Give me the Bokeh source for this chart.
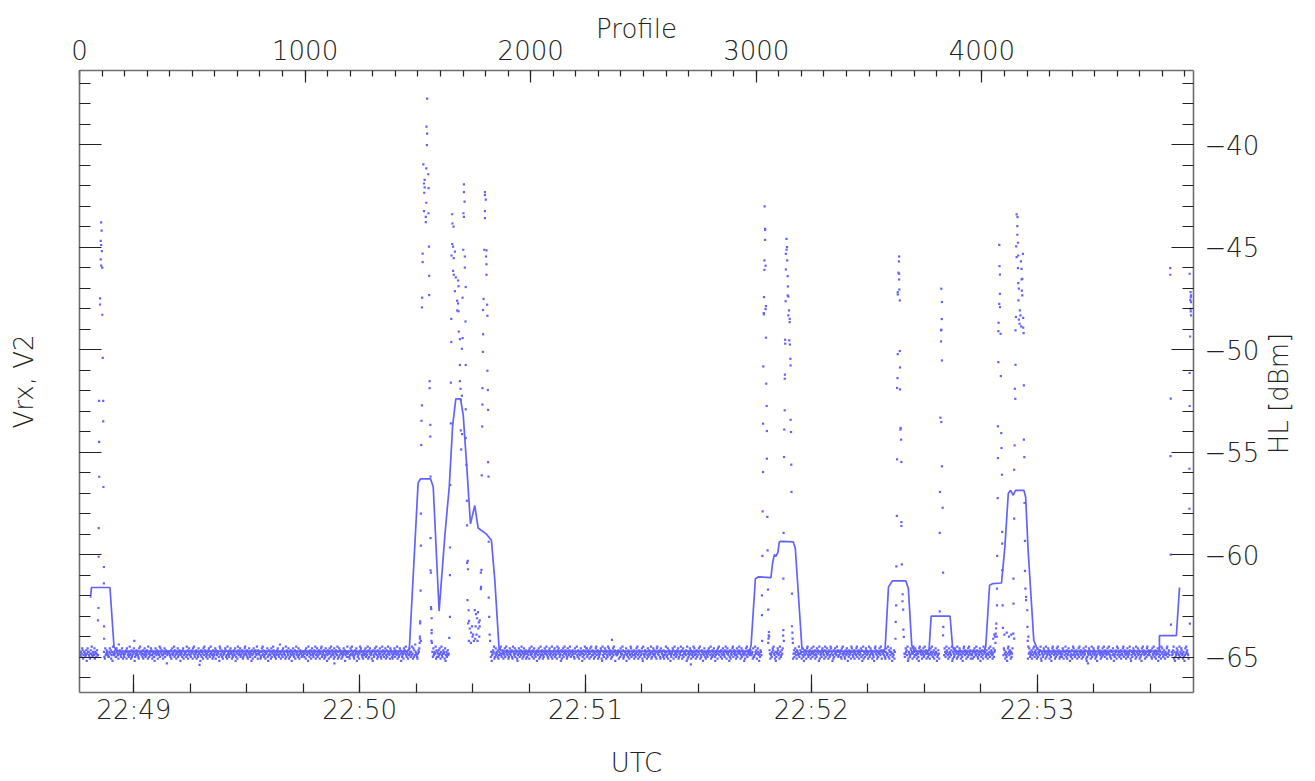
import math
import numpy as np
from bokeh.plotting import figure
from bokeh.layouts import row
from bokeh.models import LinearAxis, Range1d, FixedTicker
from bokeh.core.properties import value
from bokeh.embed import file_html
from bokeh.resources import INLINE

# ---------------- axes / ticks ----------------
profile_ticks = [0, 1000, 2000, 3000, 4000]
profile_minor = list(range(0, 4901, 100))
utc_tick_seconds = [60, 120, 180, 240, 300]          # seconds after 22:48:00
utc_tick_labels = ["22:49", "22:50", "22:51", "22:52", "22:53"]
utc_minor = list(range(60, 341, 15))
db_ticks = [-65, -60, -55, -50, -45, -40]
db_tick_labels = ["\u221265", "\u221260", "\u221255", "\u221250", "\u221245", "\u221240"]
db_minor = list(range(-66, -36))
top_title = "Profile"
right_title = "HL [dBm]"
left_title = "Vrx, V2"
bottom_title = "UTC"

# ---------------- HL (solid line), profile vs dBm ----------------
line_profile = [49, 53, 135, 153, 170, 1455, 1462, 1501, 1512, 1556, 1568, 1594, 1620,
                1639, 1654, 1668, 1689, 1701, 1716, 1733, 1752, 1767, 1804, 1826, 1841,
                1860, 1875, 2970, 2977, 2996, 3010, 3065, 3072, 3080, 3087, 3096, 3102,
                3109, 3164, 3173, 3202, 3215, 3565, 3571, 3586, 3603, 3663, 3674, 3689,
                3700, 3760, 3766, 3775, 3859, 3870, 3880, 4010, 4017, 4034, 4049, 4087,
                4102, 4117, 4127, 4139, 4149, 4186, 4194, 4205, 4230, 4245, 4260, 4787,
                4787, 4862, 4876]
line_db = [-62.1, -61.6, -61.6, -64.5, -64.7, -64.7, -64.6, -56.5, -56.3, -56.3, -56.7,
           -62.75, -59.0, -56.7, -53.7, -52.4, -52.4, -53.2, -55.6, -58.5, -57.6, -58.7,
           -59.0, -59.3, -61.25, -64.6, -64.7, -64.7, -64.4, -61.17, -61.08, -61.12,
           -60.43, -60.0, -60.08, -59.87, -59.38, -59.35, -59.38, -59.7, -64.5, -64.7,
           -64.7, -64.58, -61.57, -61.28, -61.28, -61.65, -64.41, -64.7, -64.7, -64.6,
           -63.0, -63.0, -64.5, -64.7, -64.7, -64.5, -61.49, -61.41, -61.38, -59.62,
           -57.02, -56.86, -57.1, -56.86, -56.86, -57.19, -59.79, -64.17, -64.58, -64.7,
           -64.7, -63.95, -63.95, -61.6]

# ---------------- Vrx dots during events (profile, dBm) ----------------
spike_pts = [
    # event 1
    (96, -43.8), (98, -44.2), (94, -44.7), (96, -44.9), (99, -45.2), (94, -45.6), (96, -45.9),
    (101, -46.0), (91, -47.5), (91, -47.8), (101, -48.3), (103, -50.4), (87, -52.5), (105, -52.5),
    (105, -53.5), (87, -54.5), (87, -56.2), (106, -56.7), (85, -58.7), (85, -60.1), (108, -60.6),
    (108, -61.4), (84, -62.6), (82, -63.2), (109, -63.5), (109, -64.1),
    # event 2, cluster A
    (1541, -37.76), (1538, -39.13), (1541, -39.47), (1540, -40.03), (1524, -40.97), (1537, -41.16),
    (1546, -41.45), (1530, -41.72), (1527, -41.9), (1530, -42.09), (1547, -42.13), (1528, -42.35),
    (1537, -42.84), (1527, -43.25), (1547, -43.35), (1535, -43.53), (1535, -43.78), (1549, -44.98),
    (1521, -45.32), (1521, -45.73), (1550, -46.4), (1550, -47.34), (1519, -47.47), (1518, -47.94),
    (1552, -51.54), (1552, -51.88), (1518, -52.72), (1516, -53.47), (1555, -53.67), (1555, -54.24),
    (1515, -54.65), (1556, -56.19), (1513, -58.0), (1556, -59.19), (1513, -59.56), (1558, -60.87),
    (1512, -61.75), (1559, -62.65), (1510, -63.35), (1561, -63.82), (1509, -64.1), (1556, -60.76),
    (1558, -62.55), (1510, -63.25), (1561, -63.1), (1561, -63.68), (1509, -64.0), (1560, -64.2),
    (1562, -64.3), (1508, -64.3), (1513, -64.2),
    # event 2, cluster B
    (1704, -41.94), (1704, -42.32), (1707, -42.78), (1702, -43.35), (1652, -43.40), (1704, -43.53),
    (1653, -43.85), (1658, -44.0), (1652, -44.85), (1656, -44.98), (1701, -45.13), (1664, -45.22),
    (1649, -45.41), (1708, -45.46), (1659, -45.54), (1708, -46.0), (1656, -46.16), (1659, -46.35),
    (1668, -46.48), (1678, -46.63), (1680, -46.91), (1712, -46.95), (1664, -47.15), (1698, -47.47),
    (1674, -47.62), (1678, -47.75), (1674, -48.09), (1680, -48.13), (1648, -48.5), (1711, -48.63),
    (1681, -49.12), (1698, -49.44), (1686, -49.49), (1648, -49.63), (1695, -49.96), (1686, -50.75),
    (1712, -50.75), (1686, -51.54), (1646, -51.61), (1689, -51.91), (1695, -52.25), (1690, -52.44),
    (1712, -52.91), (1646, -53.6), (1690, -53.94), (1696, -54.12), (1712, -54.31), (1692, -54.87),
    (1715, -55.62), (1643, -56.6), (1717, -57.37), (1718, -58.57), (1642, -59.65), (1718, -60.4),
    (1642, -61.0), (1720, -62.22), (1642, -63.03), (1723, -63.35), (1639, -64.06),
    (1721, -60.3), (1722, -60.71), (1725, -62.71), (1727, -63.23), (1752, -62.7), (1758, -62.9),
    (1762, -63.1), (1766, -62.8), (1770, -63.3), (1756, -63.5), (1768, -63.6), (1774, -63.2),
    (1730, -63.6), (1736, -63.8), (1742, -64.0), (1748, -64.2), (1735, -64.3), (1745, -63.9),
    (1754, -64.1), (1760, -63.9), (1726, -64.2), (1740, -63.5), (1764, -64.2), (1772, -64.0),
    # event 2, cluster C
    (1797, -42.32), (1797, -42.47), (1801, -42.69), (1797, -43.25), (1797, -43.59), (1794, -45.13),
    (1804, -45.16), (1802, -45.46), (1804, -45.84), (1804, -46.35), (1791, -47.53), (1807, -47.81),
    (1789, -48.07), (1808, -48.35), (1789, -49.25), (1788, -50.11), (1808, -51.03), (1786, -51.88),
    (1810, -51.97), (1786, -52.68), (1811, -52.94), (1785, -53.75), (1811, -55.49), (1783, -56.13),
    (1813, -56.19), (1814, -59.37), (1779, -60.87), (1779, -61.68), (1814, -62.09), (1816, -63.03),
    (1774, -63.5), (1818, -63.9), (1820, -64.2), (1782, -60.74), (1780, -61.57),
    # event 3, cluster D
    (3037, -43.02), (3039, -44.11), (3039, -44.16), (3039, -44.65), (3036, -45.65), (3041, -45.91),
    (3036, -46.11), (3034, -47.44), (3043, -47.88), (3041, -48.02), (3033, -48.22), (3034, -48.28),
    (3043, -49.42), (3031, -50.82), (3044, -51.66), (3046, -52.75), (3030, -53.61), (3047, -53.97),
    (3047, -55.32), (3030, -55.97), (3028, -57.89), (3049, -58.16), (3050, -59.79), (3027, -60.06),
    (3052, -61.7), (3025, -61.98), (3053, -62.68), (3025, -62.95), (3056, -63.77), (3055, -63.93),
    (3054, -64.09), (3026, -64.2), (3053, -64.3), (3057, -64.0),
    # event 3, cluster E
    (3134, -44.6), (3136, -45.0), (3134, -45.13), (3131, -45.33), (3137, -45.65), (3131, -46.09),
    (3139, -46.42), (3140, -46.92), (3139, -47.36), (3142, -47.41), (3130, -47.64), (3145, -48.09),
    (3142, -48.33), (3148, -48.5), (3148, -48.66), (3128, -49.52), (3146, -49.55), (3128, -49.71),
    (3149, -49.75), (3151, -50.45), (3152, -50.77), (3127, -51.22), (3126, -51.42), (3126, -52.96),
    (3152, -53.42), (3124, -53.9), (3154, -54.02), (3123, -55.24), (3155, -55.61), (3156, -56.94),
    (3121, -58.94), (3120, -61.17), (3158, -61.9), (3158, -63.49), (3120, -63.68), (3161, -64.09),
    (3119, -63.95), (3122, -64.2), (3160, -63.8), (3162, -64.3),
    # event 4
    (3633, -45.46), (3632, -45.70), (3630, -46.25), (3633, -46.30), (3633, -46.58), (3634, -47.07),
    (3627, -47.2), (3627, -47.31), (3636, -47.6), (3636, -50.07), (3627, -50.22), (3637, -50.87),
    (3626, -51.39), (3624, -51.87), (3637, -51.94), (3640, -53.82), (3639, -53.9), (3642, -54.39),
    (3624, -55.35), (3643, -55.48), (3623, -58.11), (3643, -58.41), (3643, -58.6), (3645, -60.47),
    (3621, -60.57), (3649, -61.93), (3648, -62.27), (3620, -62.47), (3651, -62.68), (3618, -63.28),
    (3652, -63.65), (3654, -64.01), (3617, -64.1),
    # event 5
    (3820, -47.03), (3823, -47.68), (3822, -48.51), (3820, -49.03), (3819, -49.06), (3819, -49.6),
    (3823, -50.53), (3816, -53.32), (3820, -53.53), (3823, -55.69), (3814, -56.94), (3826, -57.71),
    (3813, -58.94), (3828, -60.87), (3813, -62.76), (3829, -63.52), (3828, -63.93),
    # event 6, cluster G
    (4077, -44.89), (4078, -45.93), (4080, -46.34), (4080, -47.28), (4077, -47.77), (4080, -47.93),
    (4074, -48.69), (4073, -49.1), (4083, -49.23), (4073, -50.61), (4084, -51.29), (4071, -53.74),
    (4086, -54.07), (4087, -54.8), (4071, -55.29), (4089, -56.1), (4070, -57.24), (4090, -58.89),
    (4090, -59.46), (4068, -60.06), (4090, -60.76), (4067, -61.65), (4092, -62.47), (4067, -62.47),
    (4064, -63.36), (4093, -63.57), (4061, -63.85), (4058, -64.0), (4050, -64.1), (4055, -63.9),
    (4060, -64.3), (4063, -63.6), (4066, -64.0),
    # event 6, cluster H
    (4154, -43.41), (4158, -43.54), (4157, -43.98), (4157, -44.4), (4160, -44.79), (4152, -44.97),
    (4182, -45.33), (4161, -45.41), (4154, -45.49), (4173, -45.7), (4160, -46.03), (4176, -46.06),
    (4179, -46.55), (4176, -46.58), (4161, -46.76), (4164, -47.03), (4177, -47.12), (4179, -47.36),
    (4162, -47.6), (4168, -48.09), (4171, -48.33), (4151, -48.41), (4183, -48.45), (4164, -48.54),
    (4167, -48.74), (4174, -48.87), (4183, -48.93), (4149, -49.06), (4185, -49.2), (4149, -50.74),
    (4186, -51.74), (4146, -51.91), (4148, -52.4), (4186, -54.39), (4145, -54.67), (4188, -55.24),
    (4143, -55.86), (4189, -57.48), (4143, -58.24), (4191, -59.33), (4191, -60.79), (4140, -61.17),
    (4193, -61.65), (4196, -62.06), (4196, -62.22), (4140, -62.39), (4201, -62.71), (4202, -63.52),
    (4139, -63.85), (4143, -64.09), (4100, -63.9), (4110, -63.8), (4120, -64.0), (4130, -63.9),
    (4203, -64.2), (4206, -64.0),
    # event 7 and right edge
    (4835, -46.03), (4835, -46.35), (4837, -52.39), (4836, -55.19), (4837, -60.0), (4838, -63.41),
    (4921, -46.3), (4925, -47.2), (4927, -47.36), (4926, -47.44), (4924, -47.57), (4927, -47.68),
    (4925, -48.01), (4926, -48.14), (4927, -48.33), (4923, -49.36), (4921, -51.14), (4921, -52.75),
    (4920, -55.81), (4920, -57.76), (4922, -63.36),
    # isolated outliers in the baseline
    (532, -65.37), (243, -64.2), (1130, -65.3), (2360, -64.15), (2710, -65.35), (4470, -65.3),
]
spike_profile = [a for a, b in spike_pts]
spike_db = [b for a, b in spike_pts]

# ---------------- Vrx baseline dots: one code letter per sample ----------------
NOISE_LEVELS = {"a": -65.45, "b": -65.3, "c": -65.18, "d": -65.07, "e": -64.98,
                "f": -64.9, "g": -64.82, "h": -64.74, "i": -64.66, "j": -64.57,
                "k": -64.48, "l": -64.38, "m": -64.28, "n": -64.18, "o": -64.05}
NOISE_ROWS = [
    "ghfhegjidfhhgeficgjhhfedgigkfehgfjdhgegiffhjdcgehigfgkhedjfgihgfeehjgidfhckgfhgieejhgfdlgihfegjhdg",
    "fegghidjhfgehkfgdiefhgjhcegfighfedjgkhhfgeidgfjhegfihdkgegfhjifdgheecgjhfigdhgfkejhgiffdghjegihbfgh",
    "hhgfeidgjfghkeifgdhgjefhigcfhgeijdfhgghekfidgjhffegihdjgkfehgidhfejgghcfiehgdjfkhigefgdhijfegkhgfdi",
    "egfhjdigfhhgeckjfgiehdfgghjiefdkghfeigjhgdfehigfjcehgdkifghjefgihdegfjkhgfiedhgjfehgcifdgjhheigfkgd",
    "iggfhdehjfkgiefhdgghjecfigfhdjeghkifgehdfgijhfeglgdhfiejgghfdkeihgfjdhegifchgjfegidhkfghejfdgihgefh",
    "fhgegidjhfgckhegifdhjgfegihkdfgjehfigdhgjkefhgidfejhgcfigdhjgekfihgfdjehgigfkdhejfighdgefhjgicfhgek",
    "ghhedfjgikfhgedfighjcgefhdgkijhfegdhfigjegfhkdiegjhfgdhcifegjhgkfdiehgfjgedhkfigeghjdfiegkhgfdjihge",
    "dfhgjeighfkdghefjigchefgdjhigkfehgdifjghehfkgdjeiflhgfedgihjgfekdhgijfgehcdfighgejkhfgdihejfghgkdie",
    "hgeifjgdhkfegihgdjcfhegifgkhdejhfgigedhfkjgfieghdjfhegkigfhdcjegfhigdkehjfgihegdfjkhgefighdjegfhkgi",
    "gfeihgjdkhfgeihfdgjehcfgihkdegjfhgeidfhjgkfegihdgfjehkgifhdegjgfhiedkhgfjegihdcfgjhegifkhdgejfhgidg",
    "eghfidjhgfkgeihdjfgehgcifhjdgekfhigdfehjgigkfhedgijfhgekdhfgijegfhdkigjhefgcidhfjegkhigfdejhgfikgeh",
    "hfiggedjghhkfeigdhffjghcegifdkhgjjefhigdgjekhfifgdhegjkfhidgefhgjidckfhegjgidhfekgjhfigdhegjfkhicgg",
    "ffhgidhhejgfgkidefhhgjcfgeihdgfkjeghfhidfgegjhkfdgiehhfgjdckgfeighhdfjegifhgkdehgjfifgehdjkggfhied",
    "jhggfeidfhgkhefjdgihgcfeghjidfkghegfihjdeggfkhidfjeghhgfickdgehfjgidhfgekhjfgdgiefhhjgkdfeihgcgfjhe",
    "dghfeigjhhfkdgeifhjgecfhgidjgkfhheigdfjhgfeikhdgjgfhceidgfhjkegihfgdfjehgikhgdfjeighfcgdhjfkegihgf",
    "higfghdjeefkhgidgjhfcgeihfkdgjhegfidhgjfekhigdfgehjikgfdhceghjifgdkhefigjhgdfeikhgjfcdgihefjghkdgi",
    "egjhfdihgfkegighdjfhecgfihdgjkfehgifdgjhegkhfidgfejhigckdhfgeijhgfdikehgjfgdhiefkjghcfdiegjhgfkhie",
    "fhhgiedjgkfhgedigfjhcgeifhgdkjhfegidhgfjkeghidfhgjeicfkdhgegjifhgdhkefjgihdgfechjkgifdheghjgfkidhg",
    "gifhedhjgfgkeidhfjhgcegfidhgkjeghfidgfhjekgihfdgegjhifkcdhgefjighdgkhefjigfdhgecjkhgifdhgjefkhgidg",
    "hegfidgjhfkgehidfgjhgcefigdhkjhegfidgfjhegkihfdgjehgfikcdhgefjihgdkegfhjigdfhecgjkhfigdhgejfkhgidf",
    "fgdhiejhgfkgiedhfgjchegifdkhgjhefigdgfjhekgihfdgjehigfkdchgefjhigdkhegfjigdhfecgjkhfigdhegjfkihgde",
    "ghiefdhjgfkheigdfhgjcegfihdkgjhefgidhfjgkehigfdjehghfikdcghefjighdkegfhjigdfhecgjkhifgdhegjfkhigde",
    "hgfegjidhfhkgeidfgjhhcfegidfkjghefhigdgfjekhgifdhgejhfgikdcehgfjighdfkeghjifgdhefcgjkhigfdhegjfhkg",
    "eihgfdjhgkgfeidhhfjgcfegihdkfjghehfidggfjkehigfdhgjefhgkidcfhegjhigfdkehgjfigdhefcjgkhifgdhgejkfhi",
    "gfhhiedjgfkhegidfhgjcgeifhdkgjhefigdhfgjkeghifdgjehfgikdhcegfjhigdfkehgjifgdhecfjgkhigfdhegjhfkgid",
]
NOISE_GAPS = [(84, 108), (1507, 1563), (1637, 1822), (3023, 3057), (3118, 3162),
              (3615, 3655), (3811, 3831), (4058, 4094), (4137, 4203), (4833, 4840), (4916, 4940)]

noise_codes = "".join(NOISE_ROWS)
noise_profile = np.linspace(0, 4936, len(noise_codes))
noise_db = np.array([NOISE_LEVELS[c] for c in noise_codes])
keep = np.ones(len(noise_codes), dtype=bool)
for a, b in NOISE_GAPS:
    keep &= ~((noise_profile >= a) & (noise_profile <= b))
noise_profile = noise_profile[keep]
noise_db = noise_db[keep]

# ---------------- layout constants (pixels) ----------------
FONT = "DejaVu Sans Light"
BLUE = "#6262ff"
INK = "#222222"
FS = "26px"
TOTAL_W, TOTAL_H = 1313, 780
MAIN_W = 1265                # main figure width; the rest holds the right title
SIDE_W = TOTAL_W - MAIN_W

# side strip with "HL [dBm]", read bottom-to-top
side = figure(width=SIDE_W, height=TOTAL_H, output_backend="svg", toolbar_location=None,
              x_range=Range1d(0, SIDE_W), y_range=Range1d(TOTAL_H, 0),
              x_axis_location=None, y_axis_location=None, min_border=0)
side.grid.visible = False
side.outline_line_color = None
side.background_fill_color = "white"
side.border_fill_color = "white"
side.text(x=[13], y=[405], text=[right_title], angle=math.pi / 2,
          text_align="center", text_baseline="middle", text_font=value(FONT),
          text_font_size=value(FS), text_color=INK)

# main plot
p = figure(width=MAIN_W, height=TOTAL_H, output_backend="svg", toolbar_location=None,
           x_range=Range1d(0, 4938), y_range=Range1d(-66.72, -36.39),
           x_axis_location="above", y_axis_location="right",
           min_border_left=79, min_border_right=MAIN_W - 79 - 1114,
           min_border_top=70, min_border_bottom=TOTAL_H - 70 - 622)
p.extra_x_ranges = {"utc": Range1d(45.57, 341.53)}
p.xgrid.visible = False
p.ygrid.visible = False
p.outline_line_color = None
p.background_fill_color = "white"
p.border_fill_color = "white"


def style(ax, major_in, minor_in):
    ax.major_tick_in = major_in
    ax.major_tick_out = 0
    ax.minor_tick_in = minor_in
    ax.minor_tick_out = 0
    ax.axis_line_color = "#6e6e6e"
    ax.axis_line_width = 1.6
    ax.major_tick_line_color = INK
    ax.minor_tick_line_color = INK
    ax.major_tick_line_width = 1.2
    ax.minor_tick_line_width = 1.2
    ax.major_label_text_font = FONT
    ax.major_label_text_font_size = FS
    ax.major_label_text_color = INK
    ax.axis_label_text_font = FONT
    ax.axis_label_text_font_size = FS
    ax.axis_label_text_font_style = "normal"
    ax.axis_label_text_color = INK


top = p.xaxis[0]
top.ticker = FixedTicker(ticks=profile_ticks, minor_ticks=profile_minor)
top.axis_label = top_title
style(top, 12, 6)
top.major_label_standoff = 11
top.axis_label_standoff = -7

right = p.yaxis[0]
right.ticker = FixedTicker(ticks=db_ticks, minor_ticks=db_minor)
right.major_label_overrides = {t: lab for t, lab in zip(db_ticks, db_tick_labels)}
style(right, 22, 11)
right.major_label_standoff = 11

left = LinearAxis(ticker=FixedTicker(ticks=db_ticks, minor_ticks=db_minor), axis_label=left_title)
style(left, 22, 11)
left.major_label_text_color = None
left.major_label_text_font_size = "1px"
left.major_label_standoff = 0
left.axis_label_standoff = 41
p.add_layout(left, "left")

bottom = LinearAxis(x_range_name="utc",
                    ticker=FixedTicker(ticks=utc_tick_seconds, minor_ticks=utc_minor),
                    axis_label=bottom_title)
bottom.major_label_overrides = {t: lab for t, lab in zip(utc_tick_seconds, utc_tick_labels)}
style(bottom, 18, 9)
bottom.major_label_standoff = 2
bottom.axis_label_standoff = 20
p.add_layout(bottom, "below")

p.line(line_profile, line_db, line_color=BLUE, line_width=1.7)
p.scatter(noise_profile, noise_db, marker="square", size=2.2, fill_color=BLUE, line_color=None)
p.scatter(spike_profile, spike_db, marker="square", size=2.2, fill_color=BLUE, line_color=None)

page = row(p, side, spacing=0)
open("out.html", "w").write(file_html(page, INLINE))
